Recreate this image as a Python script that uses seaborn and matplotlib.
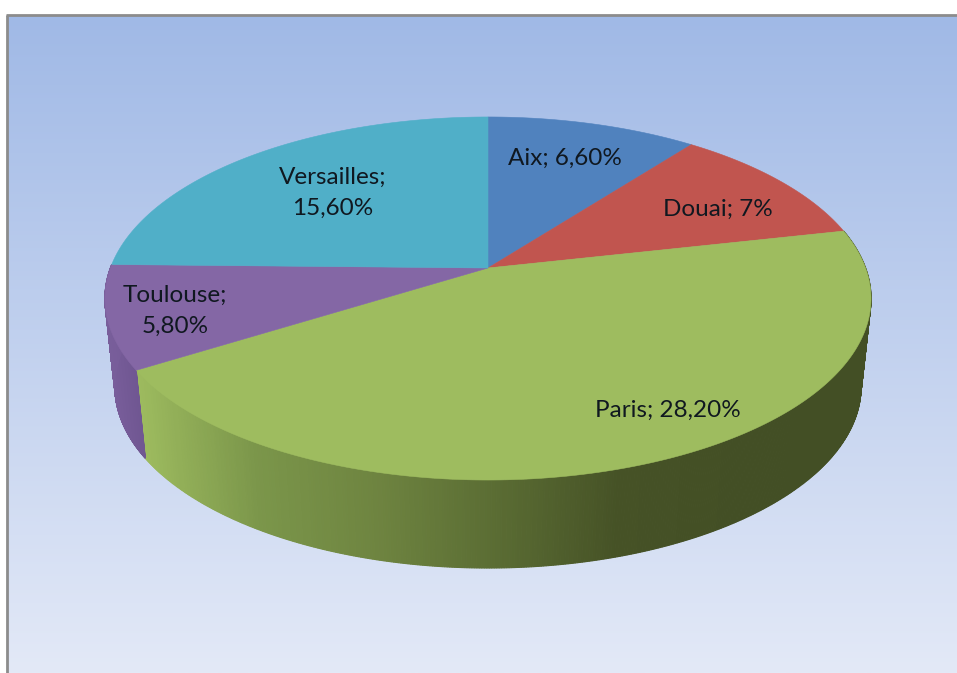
import numpy as np
import seaborn as sns
import matplotlib.pyplot as plt

cities = ['Aix', 'Douai', 'Paris', 'Toulouse', 'Versailles']
values = [6.6, 7.0, 28.2, 5.8, 15.6]
value_labels = ['6,60%', '7%', '28,20%', '5,80%', '15,60%']

top_colors = ['#5082BE', '#C1554F', '#9EBC5F', '#8467A5', '#50AFC8']
bg_colors = ['#A0B9E6', '#E3E9F7']
wall_stops = {
    'Paris': ['#9EBC5F', '#7B964A', '#6E8440', '#5A6C33', '#465226', '#434F25', '#434F25'],
    'Toulouse': ['#7A5F9C', '#6E5590'],
}

# projection of the pie disc, pixels of the picture
cx, cy = 488, 268
R, b, k = 377.6, 176.4, 0.168
depth, shrink = 88, 0.974

sns.set_theme(style="white")
plt.rcParams['font.family'] = ['Lato', 'DejaVu Sans']


def project(theta):
    u, v = np.sin(theta), -np.cos(theta)
    w = 1 - k * v
    return cx + R * u / w, cy + b * v / w


def lower(x, y):
    return cx + shrink * (x - cx), y + depth


fig = plt.figure(figsize=(9.57, 6.73), dpi=100)
ax = fig.add_axes([0, 0, 1, 1])

bg_cmap = sns.blend_palette(bg_colors, as_cmap=True)
ax.imshow(np.linspace(0, 1, 256).reshape(-1, 1), cmap=bg_cmap, extent=[7, 957, 673, 15],
          aspect='auto', interpolation='bilinear', zorder=0)
ax.plot([7, 7], [673, 15], color='#8C8C8C', lw=2, zorder=1, solid_capstyle='butt')
ax.plot([6, 957], [15, 15], color='#8C8C8C', lw=2, zorder=1, solid_capstyle='butt')

edges = np.cumsum([0] + values) / sum(values) * 2 * np.pi

# walls first, the top of the pie covers what is hidden
for i, city in enumerate(cities):
    if city not in wall_stops:
        continue
    th = np.linspace(edges[i], edges[i + 1], 500)
    x, y = project(th)
    xb, yb = lower(x, y)
    cmap = sns.blend_palette(wall_stops[city], as_cmap=True)
    x0, x1 = (137, 860) if city == 'Paris' else (105, 146)
    for j in range(len(th) - 1):
        t = ((x[j] + xb[j]) / 2 - x0) / (x1 - x0)
        ax.fill([x[j], x[j + 1], xb[j + 1], xb[j]], [y[j], y[j + 1], yb[j + 1], yb[j]],
                color=cmap(np.clip(t, 0, 1)), lw=0.8, zorder=2)

for i, city in enumerate(cities):
    th = np.linspace(edges[i], edges[i + 1], 200)
    x, y = project(th)
    ax.fill(np.r_[cx, x], np.r_[cy, y], color=top_colors[i], lw=0.4, zorder=3)

label_pos = [(565, 158), (718, 209), (668, 410), (175, 311), (333, 193)]
label_text = [f'{c}; {v}' for c, v in zip(cities, value_labels)]
label_text[3] = label_text[3].replace('; ', ';\n')
label_text[4] = label_text[4].replace('; ', ';\n')
for (lx, ly), t in zip(label_pos, label_text):
    ax.text(lx, ly, t, ha='center', va='center', fontsize=17.5, color='#101820',
            linespacing=1.55, zorder=4)

ax.set_xlim(0, 957)
ax.set_ylim(673, 0)
ax.axis('off')
fig.savefig('out.png', dpi=100, facecolor='white')
